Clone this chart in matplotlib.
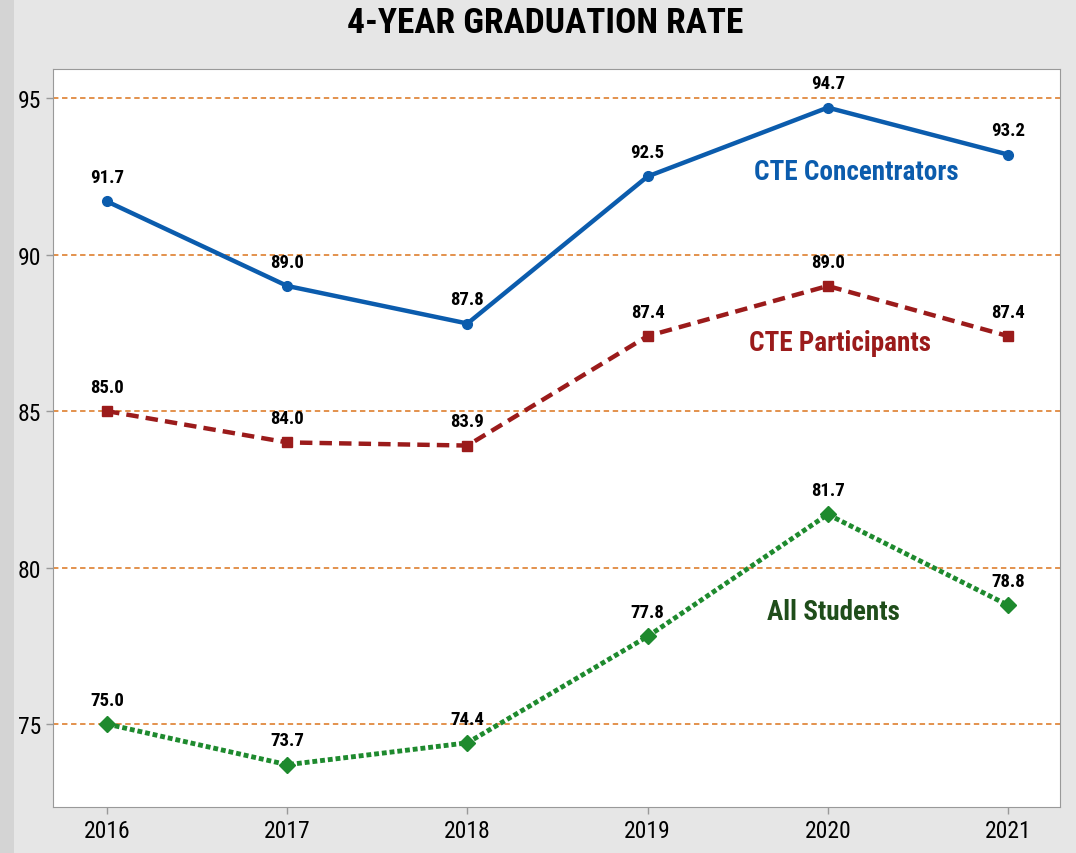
import numpy as np
import matplotlib.pyplot as plt
from matplotlib.patches import Rectangle

years = [2016, 2017, 2018, 2019, 2020, 2021]
concentrators = [91.7, 89.0, 87.8, 92.5, 94.7, 93.2]
participants = [85.0, 84.0, 83.9, 87.4, 89.0, 87.4]
all_students = [75.0, 73.7, 74.4, 77.8, 81.7, 78.8]
yticks = [75, 80, 85, 90, 95]

plt.rcParams['font.family'] = ['Roboto Condensed', 'DejaVu Sans']

fig = plt.figure(figsize=(10.76, 8.54), dpi=100, facecolor='#e6e6e6')
fig.patches.append(Rectangle((0, 0), 14/1076, 1, transform=fig.transFigure,
                             facecolor='#d4d4d4', edgecolor='none', zorder=0))
ax = fig.add_axes([0.0493, 0.0539, 0.936, 0.864])
ax.set_facecolor('white')

for y in yticks:
    ax.axhline(y, color='#e0893f', lw=1.3, ls=(0, (3, 2)), zorder=1)

ax.plot(years, concentrators, '-o', color='#0b5cad', lw=3.2, ms=7, zorder=3)
ax.plot(years, participants, '--s', color='#9b1b1b', lw=3.2, ms=7,
        dashes=(2.8, 1.6), zorder=3)
ax.plot(years, all_students, 'D', color='#1e8a2e', lw=3.5, ms=8.5,
        ls=(0, (1, 0.6)), dash_capstyle='butt', zorder=3)

for series in (concentrators, participants, all_students):
    for x, v in zip(years, series):
        ax.annotate(f'{v:.1f}', (x, v), xytext=(0, 11), textcoords='offset points',
                    ha='center', va='bottom', fontsize=13.5, fontweight='bold',
                    color='black')

ax.text(2020.16, 92.67, 'CTE Concentrators', color='#0b5cad', fontsize=19.5,
        fontweight='bold', ha='center', va='center')
ax.text(2020.07, 87.2, 'CTE Participants', color='#9b1b1b', fontsize=19.5,
        fontweight='bold', ha='center', va='center')
ax.text(2020.03, 78.61, 'All Students', color='#1f4d1a', fontsize=19.5,
        fontweight='bold', ha='center', va='center')

ax.set_xlim(2015.70, 2021.29)
ax.set_ylim(72.35, 95.93)
ax.set_xticks(years)
ax.set_xticklabels([str(y) for y in years])
ax.set_yticks(yticks)
ax.tick_params(labelsize=17, color='#999999', length=5, width=1)
for s in ax.spines.values():
    s.set_color('#999999')

fig.text(0.507, 0.973, '4-YEAR GRADUATION RATE', ha='center', va='center',
         fontsize=25.5, fontweight='bold', color='black')

fig.savefig('out.png', dpi=100, facecolor=fig.get_facecolor())
